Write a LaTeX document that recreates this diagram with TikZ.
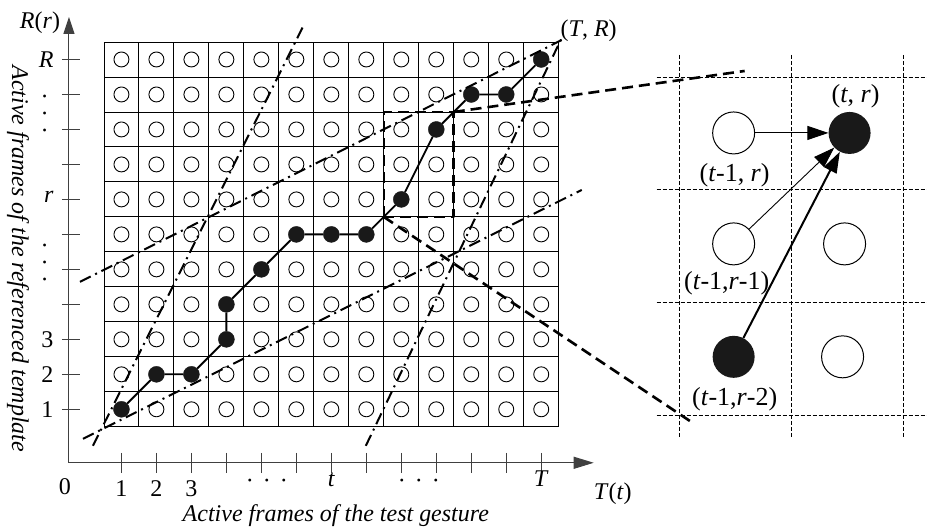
\documentclass[tikz,border=0pt]{standalone}
\usepackage{fontspec}
\setmainfont{Liberation Serif}
\usetikzlibrary{arrows.meta}
\tikzset{
  opencell/.style={circle,draw,line width=.9pt,minimum size=15pt,inner sep=0pt},
  dotcell/.style={circle,draw=black!90,fill=black!90,minimum size=16pt,inner sep=0pt},
  warp/.style={line width=1.8pt},
  band/.style={line width=2pt,dash pattern=on 12pt off 5pt on 2pt off 5pt},
  zoomline/.style={line width=2.6pt,dash pattern=on 11pt off 6pt},
  cellline/.style={line width=.9pt,dash pattern=on 4pt off 2pt},
  bigopen/.style={circle,draw,line width=1pt,minimum size=42pt,inner sep=0pt},
  bigdot/.style={circle,fill=black!90,minimum size=42pt,inner sep=0pt},
  axis/.style={line width=1pt,black!75},
  lbl/.style={font=\fontsize{24}{28}\selectfont},
  plbl/.style={font=\fontsize{26}{30}\selectfont},
}
\begin{document}
\begin{tikzpicture}[x=1pt,y=-1pt,line join=round,lbl]
  \fill[white] (0,0) rectangle (927,531);
  % axes
  \draw[axis,-{Triangle[length=17pt,width=11pt]}] (69,463) -- (69,17);
  \draw[axis,-{Triangle[length=20pt,width=12pt]}] (69,463) -- (594,463);
  \foreach \i in {1,...,13} \draw[axis] ({121.5+35*(\i-1)},453) -- ++(0,20);
  \foreach \j in {1,...,11} \draw[axis] (62,{409.5-35*(\j-1)}) -- ++(18,0);
  \node (rr) at (40,23) {\textit{R}(\textit{r})};
  \node (tt) [anchor=base] at (613,500) {\textit{T}(\textit{t})};
  \node (o) [anchor=base] at (65,495) {0};
  \foreach \i in {1,2,3} \node (x\i) [anchor=base] at ({121.5+35*(\i-1)},497) {\i};
  \node (xt) [anchor=base] at (331.5,487) {\textit{t}};
  \node (xT) [anchor=base] at (541.5,487) {\textit{T}};
  \node (xd1) at (267,484) {·\hspace{9pt}·\hspace{9pt}·};
  \node (xd2) at (419,484) {·\hspace{9pt}·\hspace{9pt}·};
  \foreach \j in {1,2,3} \node (y\j) [anchor=east] at (57,{409.5-35*(\j-1)}) {\j};
  \node (yr) [anchor=east] at (57,197) {\textit{r}};
  \node (yR) [anchor=east] at (57,60) {\textit{R}};
  \node (yd1) [rotate=90] at (48,114) {·\hspace{9pt}·\hspace{9pt}·};
  \node (yd2) [rotate=90] at (48,263) {·\hspace{9pt}·\hspace{9pt}·};
  \node (ytitle) [rotate=-90] at (18,259) {\textit{Active frames of the referenced template}};
  \node (xtitle) at (336,516) {\textit{Active frames of the test gesture}};
  \node (TR) at (589,31) {(\textit{T}, \textit{R})};
  % cost grid
  \begin{scope}[shift={(104,427)},x=35pt,y=35pt]
    \foreach \i in {0,...,13} \draw[line width=.9pt] (\i,0) -- (\i,11);
    \foreach \j in {0,...,11} \draw[line width=.9pt] (0,\j) -- (13,\j);
    \foreach \i/\lo/\hi in {1/1/1,2/2/2,3/2/2,4/3/4,5/5/5,6/6/6,7/6/6,8/6/6,9/7/7,10/9/9,11/10/10,12/10/10,13/11/11}
      \foreach \j in {1,...,11}{
        \ifnum\j<\lo \def\sty{opencell}\else\ifnum\j>\hi \def\sty{opencell}\else\def\sty{dotcell}\fi\fi
        \node[\sty] (c-\i-\j) at (\i-.5,\j-.5) {};
      }
    \coordinate (boxSW) at (8,6);
    \coordinate (boxNE) at (10,9);
  \end{scope}
  % global constraint
  \draw[band] (93,446) -- (303,27);
  \draw[band] (83,439) -- (582,190);
  \draw[band] (80,282) -- (562,40);
  \draw[band] (366,446) -- (562,38);
  % warping path
  \draw[warp] (c-1-1) -- (c-2-2) -- (c-3-2) -- (c-4-3) -- (c-4-4) -- (c-5-5) -- (c-6-6)
    -- (c-7-6) -- (c-8-6) -- (c-9-7) -- (c-10-9) -- (c-11-10) -- (c-12-10) -- (c-13-11);
  % zoom window
  \draw[zoomline] (boxSW) rectangle (boxNE);
  \coordinate (zA) at (745,71);
  \coordinate (zB) at (693,423);
  \draw[zoomline] (boxNE) -- (zA);
  \draw[zoomline] (boxSW) -- (zB);
  % local step
  \foreach \x in {680,792,904} \draw[cellline] (\x,55) -- (\x,438);
  \foreach \y in {77,190,303,416} \draw[cellline] (657,\y) -- (927,\y);
  \node[bigopen] (p-1-3) at (734,133) {};
  \node[bigdot] (p-2-3) at (850,133) {};
  \node[bigopen] (p-1-2) at (734,244) {};
  \node[bigopen] (p-2-2) at (845,244) {};
  \node[bigdot] (p-1-1) at (734,357) {};
  \node[bigopen] (p-2-1) at (843,357) {};
  \node[plbl] (l-2-3) at (856,96) {(\textit{t}, \textit{r})};
  \node[plbl] (l-1-3) at (735,175) {(\textit{t}-1, \textit{r})};
  \node[plbl] (l-1-2) at (727,283) {(\textit{t}-1,\textit{r}-1)};
  \node[plbl] (l-1-1) at (735,399) {(\textit{t}-1,\textit{r}-2)};
  \draw[line width=.9pt,-{Triangle[length=21pt,width=14pt]}] (p-1-3) -- (p-2-3);
  \draw[line width=.9pt,-{Triangle[length=21pt,width=14pt]}] (p-1-2) -- (p-2-3);
  \draw[line width=2pt,-{Triangle[length=21pt,width=14pt]}] (p-1-1) -- (p-2-3);
\end{tikzpicture}
\end{document}
